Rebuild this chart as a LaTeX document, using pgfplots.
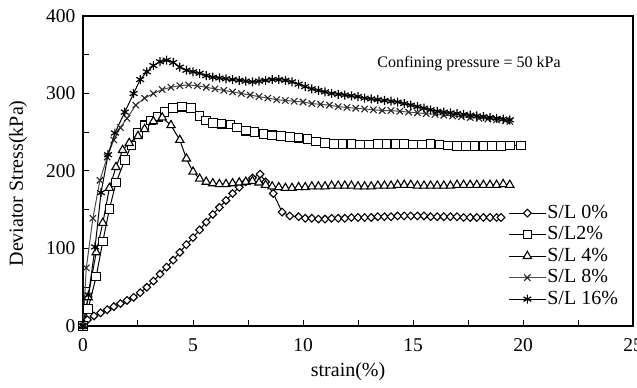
\documentclass[border=0pt]{standalone}
\usepackage{pgfplots}
\pgfplotsset{compat=1.18}
\usepackage{fontspec}
\setmainfont{Liberation Serif}
\usetikzlibrary{calc}
\begin{document}
\begin{tikzpicture}
\begin{axis}[
  scale only axis, width=550pt, height=310pt,
  xmin=0, xmax=25, ymin=0, ymax=400,
  xtick={0,5,...,25}, ytick={0,100,...,400},
  minor x tick num=1, minor y tick num=1,
  tick pos=left, tick align=inside,
  major tick length=6pt, minor tick length=6pt,
  tick style={black, line width=1pt},
  axis line style={black, line width=1.3pt},
  /pgf/number format/assume math mode=true,
  ticklabel style={font=\fontsize{19.5}{21}\selectfont},
  xticklabel style={yshift=-9pt},
  yticklabel style={xshift=-4pt},
  xlabel={strain(\%)}, ylabel={Deviator Stress(kPa)},
  xlabel style={font=\fontsize{20}{22}\selectfont, at={(axis description cs:0.482,-0.148)}, anchor=center},
  ylabel style={font=\fontsize{20}{22}\selectfont, at={(axis description cs:-0.118,0.46)}, anchor=center},
  legend style={at={(rel axis cs:0.773,0.397)}, anchor=north west, draw=none, fill=none,
    font=\fontsize{20}{22}\selectfont, row sep=1.5pt, inner sep=0pt,
    nodes={inner sep=1pt, text height=14pt, text depth=4pt}},
  legend cell align=left,
  legend image code/.code={\draw[mark repeat=2,mark phase=2,#1] plot coordinates {(0pt,0pt) (18.5pt,0pt) (37pt,0pt)};},
  every axis plot/.append style={line width=1pt},
]
% S/L 0%
\addplot[black, mark=square*, mark size=2.7pt, mark options={fill=white, line width=1.1pt, rotate=45}] coordinates {
(0,0) (0.2,8) (0.5,13) (0.8,17) (1.1,21) (1.4,25) (1.7,29) (2.0,33) (2.3,37) (2.6,43) (2.9,50) (3.2,58) (3.5,67) (3.8,76) (4.1,85) (4.4,95) (4.7,105) (5.0,114) (5.3,124) (5.6,134) (5.9,144) (6.2,153) (6.5,162) (6.8,171) (7.1,179) (7.4,186) (7.7,191) (8.05,196) (8.3,186) (8.65,171) (9.05,147) (9.4,142) (9.8,141)
(10.1,139) (10.4,139) (10.7,138) (11.0,138) (11.3,139) (11.6,139) (11.9,139) (12.2,140) (12.5,140) (12.8,140) (13.1,140) (13.4,141) (13.7,141) (14.0,141) (14.3,142) (14.6,142) (14.9,142) (15.2,142) (15.5,142) (15.8,141) (16.1,141) (16.4,141) (16.7,141) (17.0,141) (17.3,140) (17.6,140) (17.9,140) (18.2,140) (18.5,140) (18.8,140) (19.0,140)
};
\addlegendentry{S/L 0\%}
% S/L 2%
\addplot[black, mark=square*, mark size=4.3pt, mark options={fill=white, line width=1.1pt}] coordinates {
(0,0) (0.23,22) (0.6,64) (0.9,109) (1.2,151) (1.5,185) (1.9,214) (2.2,233) (2.5,249) (2.8,259) (3.1,265) (3.4,270) (3.7,276) (4.1,281) (4.5,283) (4.9,281) (5.3,271) (5.6,265) (5.9,262) (6.3,261) (6.7,260) (7.0,256) (7.4,252) (7.8,250) (8.2,248) (8.6,246) (9.0,245) (9.4,244) (9.8,243) (10.2,241) (10.6,238) (11.0,236) (11.4,235) (11.8,235) (12.2,235) (12.6,234) (13.0,234) (13.4,235) (13.8,235) (14.2,235) (14.6,235) (15.0,234) (15.4,234) (15.8,235) (16.2,234) (16.6,233) (17.0,232) (17.4,232) (17.8,232) (18.2,232) (18.6,232) (19.0,232) (19.4,233) (19.9,233)
};
\addlegendentry{S/L2\%}
% S/L 4%
\addplot[black, mark=triangle*, mark size=4.8pt, mark options={fill=white, line width=1.1pt}] coordinates {
(0,0) (0.23,37) (0.6,95) (0.9,133) (1.2,178) (1.5,205) (1.8,227) (2.1,236) (2.5,245) (2.8,254) (3.2,264) (3.6,269) (4.0,259) (4.4,240) (4.7,216) (5.0,199) (5.3,190) (5.6,186) (5.9,184) (6.2,183) (6.5,183) (6.8,184) (7.1,185) (7.4,186) (7.7,187) (8.0,185) (8.3,182) (8.6,180) (8.9,179) (9.2,178) (9.5,178) (9.8,179) (10.1,179)
(10.4,180) (10.7,180) (11.0,180) (11.3,181) (11.6,181) (11.9,181) (12.2,181) (12.5,180) (12.8,180) (13.1,180) (13.4,181) (13.7,181) (14.0,181) (14.3,182) (14.6,182) (14.9,182) (15.2,181) (15.5,181) (15.8,181) (16.1,181) (16.4,181) (16.7,181) (17.0,182) (17.3,182) (17.6,182) (17.9,182) (18.2,182) (18.5,182) (18.8,182) (19.1,183) (19.4,182)
};
\addlegendentry{S/L 4\%}
% S/L 8%
\addplot[gray!60!black, mark=x, mark size=4.5pt, mark options={black!85, line width=1.1pt}] coordinates {
(0,0) (0.15,75) (0.45,139) (0.77,188) (1.1,218) (1.4,240) (1.7,256) (2.0,268) (2.4,285) (2.8,294) (3.2,300) (3.6,305) (4.0,308) (4.4,310) (4.8,311) (5.2,310) (5.6,308) (6.0,306) (6.4,304) (6.8,302) (7.2,300) (7.6,298) (8.0,296) (8.4,294) (8.8,292) (9.2,291) (9.6,290) (10.0,289) (10.4,287) (10.8,286) (11.2,285) (11.6,283) (12.0,282) (12.4,281) (12.8,280) (13.2,279) (13.6,278) (14.0,278) (14.4,277) (14.8,276) (15.2,275) (15.6,274) (16.0,273) (16.4,272) (16.8,271) (17.2,270) (17.6,269) (18.0,268) (18.4,267) (18.8,266) (19.2,265) (19.4,264)
};
\addlegendentry{S/L 8\%}
% S/L 16%
\addplot[black, mark=asterisk, mark size=4.5pt, mark options={line width=1.2pt}] coordinates {
(0,0) (0.25,40) (0.55,102) (0.82,172) (1.14,221) (1.45,249) (1.9,276) (2.3,300) (2.6,318) (2.9,328) (3.2,336) (3.5,341) (3.8,343) (4.1,340) (4.4,334) (4.7,330) (5.0,328) (5.3,326) (5.6,323) (5.9,321) (6.2,320) (6.5,319) (6.8,318) (7.1,317) (7.4,316) (7.7,315) (8.0,316) (8.3,317) (8.6,318) (8.9,318) (9.2,317) (9.5,315) (9.8,312) (10.1,309) (10.4,306) (10.7,304) (11.0,302) (11.3,300) (11.6,299) (11.9,298) (12.2,297) (12.5,296) (12.8,294) (13.1,293) (13.4,292) (13.7,291) (14.0,290) (14.3,289) (14.6,287) (14.9,285) (15.2,283) (15.5,281) (15.8,279) (16.1,277) (16.4,276) (16.7,275) (17.0,274) (17.3,273) (17.6,272) (17.9,271) (18.2,270) (18.5,269) (18.8,268) (19.1,267) (19.4,266)
};
\addlegendentry{S/L 16\%}
\node[font=\fontsize{16}{18}\selectfont, anchor=center] at (axis cs:17.55,339) {Confining pressure = 50 kPa};
\end{axis}
\pgfresetboundingbox
\path[use as bounding box] ($(current axis.south west)+(-83pt,-62pt)$) rectangle ($(current axis.north east)+(4pt,16pt)$);
\end{tikzpicture}
\end{document}
